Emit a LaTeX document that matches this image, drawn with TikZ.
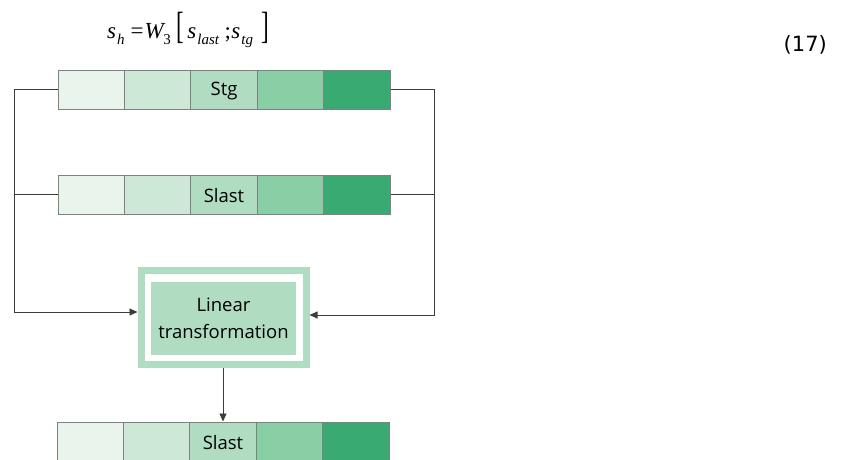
\documentclass[tikz,border=0pt]{standalone}
\usepackage{fontspec}
\setmainfont{Open Sans}
\newfontfamily\eqfont{Liberation Serif}
\newfontfamily\numfont{DejaVu Sans}
\usetikzlibrary{arrows.meta}

\definecolor{cA}{RGB}{233,244,236}
\definecolor{cB}{RGB}{206,232,216}
\definecolor{cC}{RGB}{176,220,194}
\definecolor{cD}{RGB}{136,207,165}
\definecolor{cE}{RGB}{57,170,114}
\definecolor{boxgreen}{RGB}{176,220,194}
\definecolor{cellline}{RGB}{128,128,128}
\definecolor{wire}{RGB}{60,60,60}

% pieces of the formula
\newcommand\eqsub[1]{\raisebox{-0.3em}{\fontsize{15}{15}\selectfont #1}}
\newcommand\eqbrack[1]{\scalebox{1}[1.65]{#1}}

\tikzset{
  cell/.style={draw=cellline, line width=1pt, minimum width=66.4pt, minimum height=39pt,
    inner sep=0pt},
  celltext/.style={font=\fontsize{18.5}{20}\selectfont, inner sep=0pt, yshift=-1.5pt},
  wireline/.style={draw=wire, line width=0.9pt},
  arrowline/.style={wireline, -{Triangle[length=8pt,width=7pt]}},
}

\begin{document}
\begin{tikzpicture}[x=1pt, y=-1pt]
\clip (0,0) rectangle (842,459);
\fill[white] (0,0) rectangle (842,459);

% formula and its number
\node[anchor=base west, inner sep=0pt, font=\eqfont\fontsize{23}{25}\selectfont] (eq) at (107,38)
  {\itshape s\kern1pt\eqsub{h}\kern6pt\upshape=\kern1pt\itshape W\kern-0.5pt\eqsub{\upshape 3}\kern6pt%
   \upshape\eqbrack{[}\kern3pt\itshape s\kern1pt\eqsub{last}\kern5.5pt\upshape;\kern0.5pt%
   \itshape s\kern1pt\eqsub{tg}\kern8pt\upshape\eqbrack{]}};
\node[anchor=base east, inner sep=0pt, font=\numfont\fontsize{21}{24}\selectfont] (num) at (827,51) {(17)};

% three vectors of five cells
\foreach \row/\x/\y/\lab in {a/58/89.5/Stg, b/58/194.5/Slast, c/57/441.5/Slast}{
  \foreach \i/\col in {0/cA,1/cB,2/cC,3/cD,4/cE}{
    \node[cell, fill=\col] (\row\i) at (\x+33.2+66.4*\i, \y) {};
  }
  \node[celltext] (\row lab) at (\row2) {\lab};
}

% linear transformation block
\node[draw=boxgreen, line width=7pt, fill=white, minimum width=165pt, minimum height=94pt,
  inner sep=0pt] (box) at (223.5,317.7) {};
\node[fill=boxgreen, minimum width=145pt, minimum height=73.3pt, align=center,
  font=\fontsize{18.5}{27}\selectfont, inner sep=0pt, yshift=-1pt] (lin) at (box.center) {Linear\\transformation};

% wiring
\draw[arrowline] (a0.west) -- (14,89.5) |- ([yshift=5.7pt]box.west);
\draw[wireline] (b0.west) -- (14,194.5);
\draw[arrowline] (a4.east) -- (434,89.5) |- ([yshift=2.7pt]box.east);
\draw[wireline] (b4.east) -- (434,194.5);
\draw[arrowline] (c2.north |- box.south) -- (c2.north);
\end{tikzpicture}
\end{document}
